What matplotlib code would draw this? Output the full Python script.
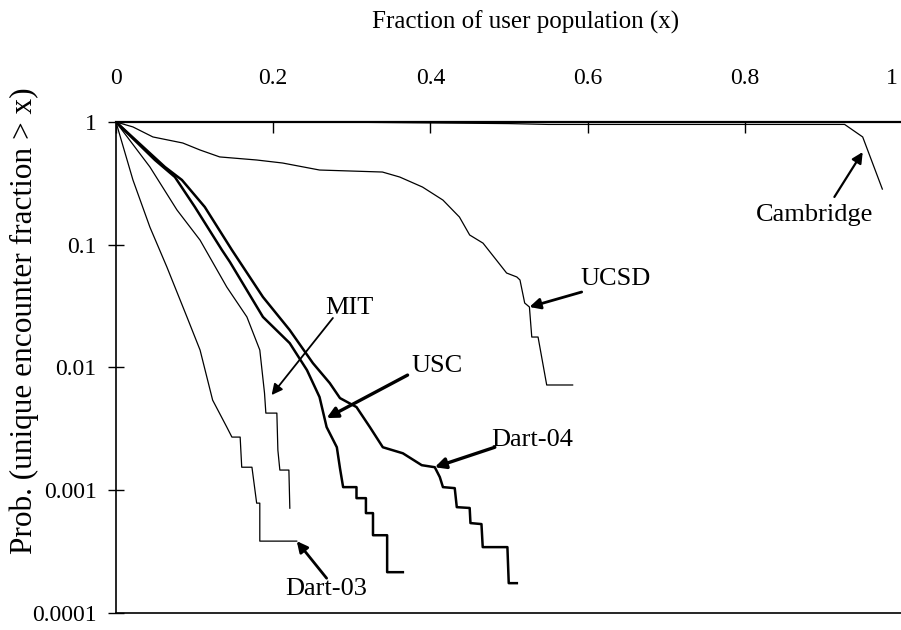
import matplotlib
matplotlib.use('Agg')
import matplotlib.pyplot as plt
from matplotlib.ticker import FixedLocator, NullLocator
from matplotlib.transforms import ScaledTranslation

plt.rcParams['font.family'] = ['Liberation Serif', 'DejaVu Serif']

# values: x = fraction of user population,
# y = prob(unique encounter fraction > x)
cam_x = [0, 0.30, 0.50, 0.55, 0.927, 0.95, 0.975]
cam_y = [1, 0.995, 0.97, 0.955, 0.955, 0.755, 0.284]

ucsd_x = [0, 0.0216, 0.047, 0.085, 0.107, 0.132, 0.179, 0.212, 0.259, 0.339,
          0.361, 0.390, 0.416, 0.437, 0.450, 0.467, 0.484, 0.497, 0.510, 0.514,
          0.520, 0.526, 0.529, 0.537, 0.548, 0.581]
ucsd_y = [1, 0.911, 0.755, 0.674, 0.591, 0.519, 0.490, 0.463, 0.406, 0.391,
          0.356, 0.295, 0.231, 0.168, 0.120, 0.103, 0.075, 0.0588, 0.0546, 0.0516,
          0.0335, 0.0311, 0.0177, 0.0177, 0.0072, 0.0072]

dart03_x = [0, 0.0216, 0.0432, 0.0648, 0.0903, 0.107, 0.123, 0.141, 0.1475,
            0.158, 0.160, 0.173, 0.179, 0.183, 0.183, 0.230]
dart03_y = [1, 0.337, 0.139, 0.0658, 0.0258, 0.01387, 0.00542, 0.00327, 0.00271,
            0.00271, 0.00154, 0.00154, 0.000785, 0.000785, 0.000385, 0.000385]

mit_x = [0, 0.0432, 0.0776, 0.107, 0.141, 0.1666, 0.183, 0.189, 0.1907, 0.2047,
         0.206, 0.2085, 0.220, 0.2212]
mit_y = [1, 0.430, 0.192, 0.109, 0.0452, 0.0258, 0.01387, 0.00618, 0.00425, 0.00425,
         0.00212, 0.00146, 0.00146, 0.000714]

usc_x = [0, 0.0496, 0.075, 0.1004, 0.1348, 0.145, 0.187, 0.221, 0.243, 0.259,
         0.268, 0.281, 0.285, 0.289, 0.306, 0.306, 0.318, 0.318, 0.327, 0.327,
         0.345, 0.345, 0.365]
usc_y = [1, 0.490, 0.356, 0.203, 0.0906, 0.0723, 0.0258, 0.0158, 0.00952, 0.00574,
         0.00327, 0.00224, 0.00151, 0.00106, 0.00106, 0.000862, 0.000862, 0.000651,
         0.000651, 0.000430, 0.000430, 0.000215, 0.000215]

dart04_x = [0, 0.0623, 0.0839, 0.113, 0.1475, 0.187, 0.221, 0.2505, 0.272, 0.285,
            0.306, 0.323, 0.3395, 0.365, 0.389, 0.4056, 0.412, 0.416, 0.431, 0.4336,
            0.450, 0.451, 0.465, 0.4666, 0.498, 0.4997, 0.510]
dart04_y = [1, 0.430, 0.337, 0.203, 0.0906, 0.0375, 0.0202, 0.01086, 0.00746, 0.00563,
            0.00476, 0.00327, 0.00224, 0.00200, 0.00160, 0.00154, 0.00128, 0.00106,
            0.00104, 0.000728, 0.000717, 0.000540, 0.000530, 0.000344, 0.000344,
            0.000175, 0.000175]

x_ticks = [0, 0.2, 0.4, 0.6, 0.8, 1.0]
x_tick_labels = ['0', '0.2', '0.4', '0.6', '0.8', '1']
y_ticks = [1e-4, 1e-3, 1e-2, 1e-1, 1]
y_tick_labels = ['0.0001', '0.001', '0.01', '0.1', '1']

fig = plt.figure(figsize=(9.01, 6.30), dpi=100)
ax = fig.add_axes([0.1287, 0.027, 0.8724, 0.7794])
ax.set_yscale('log')

ax.plot(cam_x, cam_y, color='black', lw=0.9)
ax.plot(ucsd_x, ucsd_y, color='black', lw=0.9)
ax.plot(dart03_x, dart03_y, color='black', lw=0.9)
ax.plot(mit_x, mit_y, color='black', lw=0.9)
ax.plot(usc_x, usc_y, color='black', lw=1.8)
ax.plot(dart04_x, dart04_y, color='black', lw=1.8)

ax.set_xlim(0, 1)
ax.set_ylim(1e-4, 1)

ax.xaxis.tick_top()
ax.xaxis.set_label_position('top')
ax.xaxis.set_major_locator(FixedLocator(x_ticks))
ax.set_xticklabels(x_tick_labels)
ax.yaxis.set_major_locator(FixedLocator(y_ticks))
ax.yaxis.set_minor_locator(NullLocator())
ax.set_yticklabels(y_tick_labels)
ax.tick_params(axis='x', direction='in', length=8, width=1, pad=24, labelsize=17,
               top=True, bottom=False)
ax.tick_params(axis='y', direction='inout', length=12, width=1, pad=8, labelsize=17,
               left=True, right=False)

# the last x label sits on the figure edge, nudge it inside
last = ax.get_xticklabels()[-1]
last.set_transform(last.get_transform() + ScaledTranslation(-7 / 72, 0, fig.dpi_scale_trans))

ax.spines['right'].set_visible(False)
ax.spines['top'].set_linewidth(1.6)
ax.spines['left'].set_linewidth(1.2)
ax.spines['bottom'].set_linewidth(1.2)

ax.set_xlabel('Fraction of user population (x)', fontsize=18)
ax.xaxis.label.set_va('center')
ax.xaxis.set_label_coords(0.521, 1.202)
ax.set_ylabel('Prob. (unique encounter fraction > x)', fontsize=22.5)
ax.yaxis.label.set_va('center')
ax.yaxis.set_label_coords(-0.117, 0.595)

# labels with arrows: (text, text pos, arrow tail, arrow head, arrow width)
notes = [
    ('MIT', (0.2975, 0.0305), (0.276, 0.0253), (0.198, 0.00596), 1.3),
    ('USC', (0.408, 0.0103), (0.371, 0.00867), (0.268, 0.00387), 2.4),
    ('Dart-04', (0.529, 0.00256), (0.482, 0.00224), (0.4056, 0.00154), 2.4),
    ('Dart-03', (0.267, 0.000156), (0.268, 0.000192), (0.230, 0.000385), 2.0),
    ('UCSD', (0.636, 0.0525), (0.5925, 0.0412), (0.526, 0.0311), 2.0),
    ('Cambridge', (0.889, 0.1746), (0.914, 0.245), (0.950, 0.569), 1.6),
]
for name, pos, tail, head, w in notes:
    ax.annotate('', xy=head, xytext=tail,
                arrowprops=dict(arrowstyle='-|>', color='black', lw=w,
                                mutation_scale=16, shrinkA=0, shrinkB=0))
    ax.text(pos[0], pos[1], name, ha='center', va='center', fontsize=19)

fig.savefig('out.png', dpi=100)
